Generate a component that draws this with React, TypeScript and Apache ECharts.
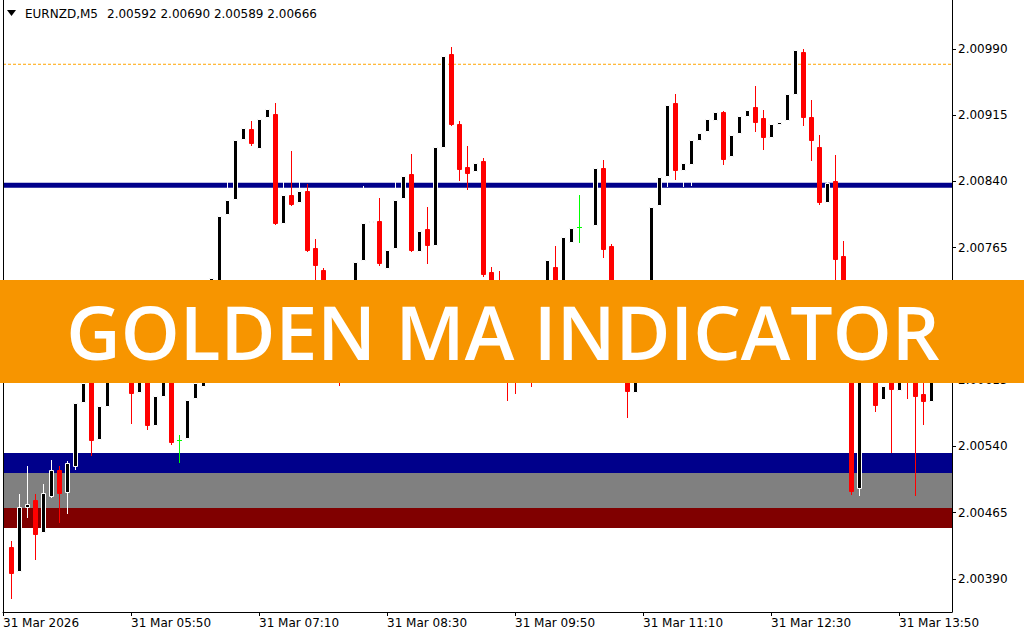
import React, { useEffect, useRef } from "react";
import * as echarts from "echarts";

const headerSymbol = "EURNZD,M5";
const headerPrices = "2.00592 2.00690 2.00589 2.00666";
const bannerText = "GOLDEN MA INDICATOR";

// OHLC of the visible M5 bars (bar index 0 = 04:35)
const opens = [
  2.00426, 2.00399, 2.00471, 2.00479, 2.00443, 2.00484, 2.00513, 2.00488, 2.00518, 2.0059,
  2.00613, 2.00549, 2.00586, 2.00649, 2.00627, 2.00672, 2.00602, 2.00661, 2.00564, 2.00597,
  2.00644, 2.00547, 2.0055, 2.00595, 2.00609, 2.00672, 2.00723, 2.00803, 2.0082, 2.00888,
  2.00899, 2.00878, 2.00913, 2.00916, 2.00793, 2.00825, 2.00817, 2.00829, 2.00765, 2.0074,
  2.00706, 2.00672, 2.00627, 2.00683, 2.00751, 2.00794, 2.00795, 2.00742, 2.00765, 2.00821,
  2.00848, 2.00761, 2.00786, 2.00768, 2.00879, 2.00984, 2.00905, 2.00856, 2.00852, 2.00863,
  2.00738, 2.00706, 2.00683, 2.0063, 2.00618, 2.00661, 2.00627, 2.00683, 2.00743, 2.00706,
  2.00771, 2.00789, 2.00705, 2.00791, 2.00855, 2.00767, 2.00706, 2.00661, 2.00602, 2.00649,
  2.00694, 2.00813, 2.00846, 2.00929, 2.00853, 2.0086, 2.00887, 2.00897, 2.0091, 2.00919,
  2.00869, 2.00895, 2.00914, 2.00924, 2.00912, 2.0089, 2.00905, 2.0091, 2.00939, 2.00987,
  2.00913, 2.00879, 2.00817, 2.00841, 2.00756, 2.00694, 2.00493, 2.00627, 2.00625, 2.00594,
  2.00621, 2.00604, 2.00632, 2.00621, 2.00599, 2.00592,
];
const highs = [
  2.00433, 2.00486, 2.00518, 2.00486, 2.00498, 2.00525, 2.00518, 2.00524, 2.00595, 2.00618,
  2.00621, 2.00593, 2.00655, 2.00672, 2.00683, 2.00683, 2.00672, 2.00666, 2.00604, 2.00655,
  2.00649, 2.00553, 2.00598, 2.00618, 2.00678, 2.00733, 2.00805, 2.00842, 2.00889, 2.00903,
  2.00908, 2.00913, 2.00928, 2.00929, 2.00842, 2.00875, 2.00842, 2.00837, 2.00775, 2.00742,
  2.00711, 2.00678, 2.00689, 2.00753, 2.00835, 2.00802, 2.00821, 2.00768, 2.00842, 2.00851,
  2.00871, 2.00787, 2.00811, 2.00881, 2.00984, 2.00992, 2.00908, 2.0088, 2.00864, 2.00867,
  2.00743, 2.00739, 2.00689, 2.00649, 2.00672, 2.00666, 2.00694, 2.00757, 2.00767, 2.00783,
  2.00791, 2.00825, 2.0078, 2.00864, 2.00864, 2.00769, 2.00711, 2.00666, 2.00655, 2.00706,
  2.00813, 2.00847, 2.00932, 2.00939, 2.00864, 2.0089, 2.00898, 2.00914, 2.00923, 2.0092,
  2.00896, 2.00918, 2.00925, 2.00948, 2.00921, 2.0091, 2.00911, 2.00944, 2.00992, 2.0099,
  2.00932, 2.00893, 2.00847, 2.0087, 2.00773, 2.007, 2.00638, 2.00645, 2.00655, 2.00615,
  2.00638, 2.00644, 2.00649, 2.00638, 2.00618, 2.0069,
];
const lows = [
  2.00369, 2.00398, 2.0046, 2.00413, 2.00441, 2.00483, 2.00454, 2.00465, 2.00515, 2.00588,
  2.0053, 2.00547, 2.00585, 2.00618, 2.00621, 2.00567, 2.00601, 2.0056, 2.00562, 2.00596,
  2.00543, 2.00522, 2.00547, 2.00594, 2.00606, 2.00668, 2.00719, 2.00801, 2.00818, 2.00887,
  2.00881, 2.00876, 2.00912, 2.00792, 2.00792, 2.00813, 2.00816, 2.00761, 2.00717, 2.00694,
  2.00661, 2.0061, 2.00621, 2.00678, 2.00749, 2.00791, 2.00745, 2.0074, 2.00762, 2.00819,
  2.00761, 2.00759, 2.00748, 2.00767, 2.00878, 2.00904, 2.00842, 2.00831, 2.00851, 2.00733,
  2.007, 2.00678, 2.00593, 2.006, 2.00614, 2.00608, 2.00621, 2.00678, 2.007, 2.007,
  2.00769, 2.00771, 2.007, 2.00788, 2.00754, 2.00694, 2.00649, 2.00573, 2.00601, 2.00647,
  2.00692, 2.00811, 2.00835, 2.00843, 2.00835, 2.00836, 2.00885, 2.00895, 2.00907, 2.0086,
  2.00867, 2.00893, 2.00912, 2.00897, 2.00877, 2.00888, 2.00903, 2.00907, 2.00937, 2.00904,
  2.00864, 2.00815, 2.00815, 2.00717, 2.00683, 2.00486, 2.00485, 2.00613, 2.0058, 2.00593,
  2.00534, 2.00602, 2.00595, 2.00485, 2.00565, 2.00589,
];
const closes = [
  2.00397, 2.00472, 2.00475, 2.00441, 2.00487, 2.00513, 2.00487, 2.00521, 2.00589, 2.00612,
  2.00547, 2.00586, 2.00649, 2.00627, 2.00672, 2.006, 2.00661, 2.00564, 2.00597, 2.00644,
  2.00545, 2.00547, 2.00593, 2.00612, 2.00672, 2.00731, 2.00801, 2.00819, 2.00887, 2.00901,
  2.00884, 2.00911, 2.00922, 2.00793, 2.00825, 2.00815, 2.00829, 2.00762, 2.00745, 2.00706,
  2.00672, 2.00627, 2.00683, 2.00749, 2.00793, 2.00795, 2.00748, 2.00762, 2.00819, 2.00846,
  2.00762, 2.00784, 2.00768, 2.00879, 2.00982, 2.00905, 2.00854, 2.0085, 2.00861, 2.00735,
  2.00706, 2.00683, 2.00627, 2.00618, 2.00661, 2.00627, 2.00683, 2.00751, 2.00706, 2.00777,
  2.00787, 2.00789, 2.00724, 2.00855, 2.00764, 2.00706, 2.00661, 2.00603, 2.00649, 2.00694,
  2.00811, 2.00845, 2.00927, 2.00853, 2.00861, 2.00887, 2.00895, 2.00911, 2.00919, 2.00865,
  2.00893, 2.00914, 2.00921, 2.00907, 2.0089, 2.00905, 2.00907, 2.00939, 2.00989, 2.00913,
  2.00887, 2.00817, 2.00838, 2.00752, 2.00694, 2.0049, 2.00627, 2.00615, 2.00587, 2.00608,
  2.00605, 2.00627, 2.00615, 2.00597, 2.00591, 2.00666,
];

const yTicks = [2.0039, 2.00465, 2.0054, 2.00615, 2.0069, 2.00765, 2.0084, 2.00915, 2.0099];
const xTickIndex = [-1, 15, 31, 47, 63, 79, 95, 111];
const xTickLabels = [
  "31 Mar 2026", "31 Mar 05:50", "31 Mar 07:10", "31 Mar 08:30",
  "31 Mar 09:50", "31 Mar 11:10", "31 Mar 12:30", "31 Mar 13:50",
];

const maLevel = 2.008357;
const goldenLevel = 2.009727;
const blueBand = [2.0051, 2.005327];
const greyBand = [2.004704, 2.0051];
const redBand = [2.004478, 2.004704];

const X_MIN = -1;
const X_MAX = 117.625;
const Y_MIN = 2.0035264;
const Y_MAX = 2.010432;

export default function App() {
  const ref = useRef<HTMLDivElement>(null);
  useEffect(() => {
    if (!ref.current) return;
    const chart = echarts.init(ref.current, undefined, { renderer: "svg" });
    const data = opens.map((o, i) => [i, o, closes[i], lows[i], highs[i]]);
    const option: any = {
      animation: false,
      backgroundColor: "#ffffff",
      grid: { left: 3, right: 72, top: 2, bottom: 28, show: false },
      xAxis: {
        type: "value",
        min: X_MIN,
        max: X_MAX,
        axisLine: { show: true, onZero: false, lineStyle: { color: "#000", width: 1 } },
        axisTick: { show: true, customValues: xTickIndex, length: 4, lineStyle: { color: "#000" } },
        axisLabel: {
          customValues: xTickIndex,
          formatter: (v: number) => xTickLabels[xTickIndex.indexOf(Math.round(v))] || "",
          align: "left",
          color: "#000",
          fontFamily: "DejaVu Sans",
          fontSize: 12,
          margin: 5,
        },
        splitLine: { show: false },
      },
      yAxis: {
        type: "value",
        position: "right",
        min: Y_MIN,
        max: Y_MAX,
        scale: true,
        axisLine: { show: true, onZero: false, lineStyle: { color: "#000", width: 1 } },
        axisTick: { show: true, customValues: yTicks, length: 4, lineStyle: { color: "#000" } },
        axisLabel: {
          customValues: yTicks,
          formatter: (v: number) => v.toFixed(5),
          color: "#000",
          fontFamily: "DejaVu Sans",
          fontSize: 12,
          margin: 6,
        },
        splitLine: { show: false },
      },
      series: [
        {
          type: "line",
          z: 1,
          silent: true,
          data: [[X_MIN, 2.006], [X_MAX, 2.006]],
          showSymbol: false,
          lineStyle: { opacity: 0 },
          markArea: {
            silent: true,
            label: { show: false },
            data: [
              [{ yAxis: blueBand[0], itemStyle: { color: "#00008B", opacity: 1 } }, { yAxis: blueBand[1] }],
              [{ yAxis: greyBand[0], itemStyle: { color: "#808080", opacity: 1 } }, { yAxis: greyBand[1] }],
              [{ yAxis: redBand[0], itemStyle: { color: "#800000", opacity: 1 } }, { yAxis: redBand[1] }],
            ],
          },
        },
        {
          type: "line",
          z: 1,
          silent: true,
          data: [[X_MIN, maLevel], [X_MAX, maLevel]],
          showSymbol: false,
          lineStyle: { color: "#00008B", width: 5, type: "solid" },
        },
        {
          type: "line",
          z: 1,
          silent: true,
          data: [[X_MIN, goldenLevel], [X_MAX, goldenLevel]],
          showSymbol: false,
          lineStyle: { color: "#FFA500", width: 1, type: [3, 2] },
        },
        {
          type: "custom",
          z: 2,
          silent: true,
          clip: true,
          data,
          encode: { x: 0, y: [1, 2, 3, 4] },
          renderItem: (params: any, api: any) => {
            const i = api.value(0);
            const o = api.value(1);
            const c = api.value(2);
            const l = api.value(3);
            const h = api.value(4);
            const pO = api.coord([i, o]);
            const cx = Math.round(pO[0]);
            const yO = Math.round(pO[1]);
            const yC = Math.round(api.coord([i, c])[1]);
            const yH = Math.round(api.coord([i, h])[1]);
            const yL = Math.round(api.coord([i, l])[1]);
            const doji = Math.abs(c - o) < 1e-9;
            const bull = c > o;
            const wick = doji ? "#00ff00" : bull ? "#ffffff" : "#ff0000";
            const children: any[] = [
              {
                type: "line",
                shape: { x1: cx + 0.5, y1: yH, x2: cx + 0.5, y2: yL + 1 },
                style: { stroke: wick, lineWidth: 1 },
              },
            ];
            if (doji) {
              children.push({
                type: "line",
                shape: { x1: cx - 2, y1: yO + 0.5, x2: cx + 3, y2: yO + 0.5 },
                style: { stroke: "#00ff00", lineWidth: 1 },
              });
            } else {
              const top = Math.min(yO, yC);
              const bot = Math.max(yO, yC);
              children.push({
                type: "rect",
                shape: { x: cx - 1.5, y: top + 0.5, width: 4, height: Math.max(bot - top, 1) },
                style: {
                  fill: bull ? "#000000" : "#ff0000",
                  stroke: bull ? "#ffffff" : "#ff0000",
                  lineWidth: 1,
                },
              });
            }
            return { type: "group", children };
          },
        },
      ],
      graphic: [
        {
          type: "line",
          z: 50,
          silent: true,
          shape: { x1: 3.5, y1: 0, x2: 3.5, y2: 612 },
          style: { stroke: "#000", lineWidth: 1 },
        },
        {
          type: "line",
          z: 50,
          silent: true,
          shape: { x1: 952.5, y1: 0, x2: 952.5, y2: 3 },
          style: { stroke: "#000", lineWidth: 1 },
        },
        {
          type: "polygon",
          z: 50,
          silent: true,
          shape: { points: [[7, 10], [16, 10], [11.5, 16]] },
          style: { fill: "#000" },
        },
        {
          type: "text",
          z: 50,
          silent: true,
          x: 25,
          y: 14,
          style: {
            text: headerSymbol,
            fill: "#000",
            font: '12px "DejaVu Sans"',
            textAlign: "left",
            textVerticalAlign: "middle",
          },
        },
        {
          type: "text",
          z: 50,
          silent: true,
          x: 107,
          y: 14,
          style: {
            text: headerPrices,
            fill: "#000",
            font: '12px "DejaVu Sans"',
            textAlign: "left",
            textVerticalAlign: "middle",
          },
        },
        {
          type: "rect",
          z: 100,
          silent: true,
          shape: { x: 0, y: 280, width: 1024, height: 103 },
          style: { fill: "#F79500" },
        },
        {
          type: "text",
          z: 101,
          silent: true,
          x: 503,
          y: 331,
          style: {
            text: bannerText,
            fill: "#ffffff",
            font: '600 75px "Open Sans"',
            textAlign: "center",
            textVerticalAlign: "middle",
          },
        },
      ],
    };
    chart.setOption(option);
    return () => chart.dispose();
  }, []);
  return (
    <div
      ref={ref}
      style={{ position: "fixed", left: 0, top: 0, width: 1024, height: 640, background: "#fff" }}
    />
  );
}
